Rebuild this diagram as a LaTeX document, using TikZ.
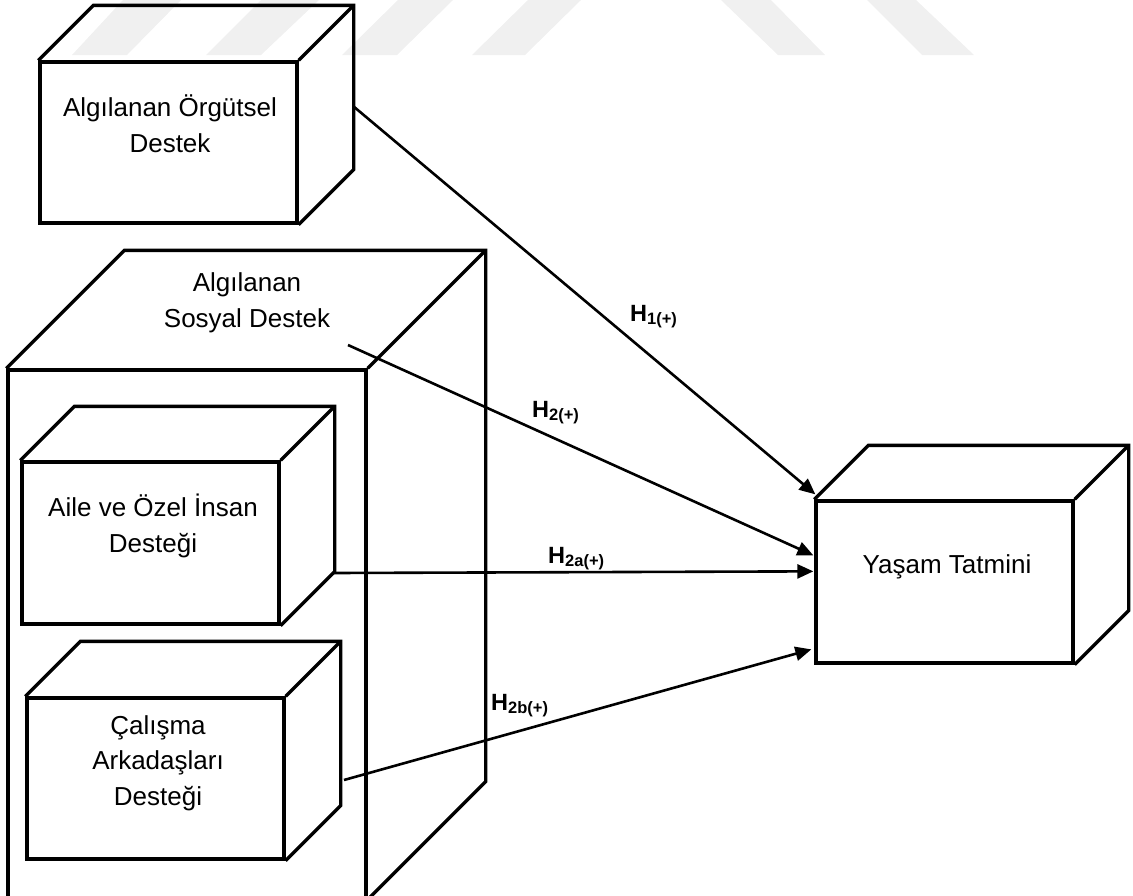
\documentclass[tikz,border=0pt]{standalone}
\usepackage{fontspec}
\setmainfont{Liberation Sans}
\usepackage{tikz}
\usetikzlibrary{calc,arrows.meta}
\tikzset{>={Triangle[length=16pt,width=14pt]}}
\tikzset{face/.style={draw, line width=3.3pt, inner sep=0pt},
  boxtext/.style={align=center, inner sep=0pt, anchor=base, font=\fontsize{26}{35.5}\selectfont},
  hyplabel/.style={inner sep=0pt, anchor=base west, font=\fontsize{23.5}{23.5}\selectfont\bfseries},
  hyparrow/.style={line width=2.6pt, ->},
  mark stripe/.style={fill=black!6, draw=none}}
% top and right faces of a box, from the front face node
\newcommand{\boxsides}[2]{
  \draw[line width=3.3pt] (#1.north west) -- ++(#2,-#2) -- ($(#1.north east)+(#2,-#2)$)
    -- ($(#1.south east)+(#2,-#2)$) -- (#1.south east);
  \draw[line width=3.3pt] (#1.north east) -- ++(#2,-#2);
}
\newcommand{\hyp}[1]{H\raisebox{-3pt}{\fontsize{16.5}{16.5}\selectfont #1}}

\begin{document}
\begin{tikzpicture}[x=1pt,y=-1pt]
  \clip (0,0) rectangle (1133,895);

  % watermark
  \fill[mark stripe] (123,0)--(181,0)--(127,55)--(72,55)--cycle;
  \fill[mark stripe] (261,0)--(319,0)--(261,55)--(206,55)--cycle;
  \fill[mark stripe] (398,0)--(453,0)--(397,55)--(342,55)--cycle;
  \fill[mark stripe] (528,0)--(581,0)--(525,55)--(472,55)--cycle;
  \fill[mark stripe] (721,0)--(771,0)--(825,55)--(778,55)--cycle;
  \fill[mark stripe] (867,0)--(916,0)--(974,55)--(922,55)--cycle;

  % boxes
  \node[face, minimum width=257pt, minimum height=161pt] (org) at (168.5,142.5) {};
  \boxsides{org}{55}
  \node[face, minimum width=358pt, minimum height=528pt] (sosyal) at (187,634) {};
  \boxsides{sosyal}{118}
  \node[face, minimum width=257pt, minimum height=162pt] (aile) at (150.5,543) {};
  \boxsides{aile}{54}
  \node[face, minimum width=257pt, minimum height=161pt] (calisma) at (155.5,778.5) {};
  \boxsides{calisma}{55}
  \node[face, minimum width=257pt, minimum height=162pt] (yasam) at (944.5,582) {};
  \boxsides{yasam}{54}

  \node[boxtext] (orgtext) at (170,152) {Algılanan Örgütsel\\Destek};
  \node[boxtext] (sostext) at (247,327) {Algılanan\\Sosyal Destek};
  \node[boxtext] (ailetext) at (153,552) {Aile ve Özel İnsan\\Desteği};
  \node[boxtext] (caltext) at (158,805) {Çalışma\\Arkadaşları\\Desteği};
  \node[boxtext] (yasamtext) at (947,573) {Yaşam Tatmini};

  % arrows
  \coordinate (h1s) at (353,106);
  \coordinate (h2s) at (348,345);
  \coordinate (h2as) at (333,573);
  \coordinate (h2bs) at (344,780);
  \coordinate (h1e) at ($(yasam.north west)+(1,-5)$);
  \coordinate (h2e) at ($(yasam.north west)+(-1,56)$);
  \coordinate (h2ae) at ($(yasam.north west)+(-1,72)$);
  \coordinate (h2be) at ($(yasam.north west)+(-3,150)$);
  \draw[hyparrow] (h1s) -- (h1e);
  \draw[hyparrow] (h2s) -- (h2e);
  \draw[hyparrow] (h2as) -- (h2ae);
  \draw[hyparrow] (h2bs) -- (h2be);

  \node[hyplabel] (h1lab) at (630,321) {\hyp{1(+)}};
  \node[hyplabel] (h2lab) at (532,417) {\hyp{2(+)}};
  \node[hyplabel] (h2alab) at (548,563) {\hyp{2a(+)}};
  \node[hyplabel] (h2blab) at (491,710) {\hyp{2b(+)}};
\end{tikzpicture}
\end{document}
